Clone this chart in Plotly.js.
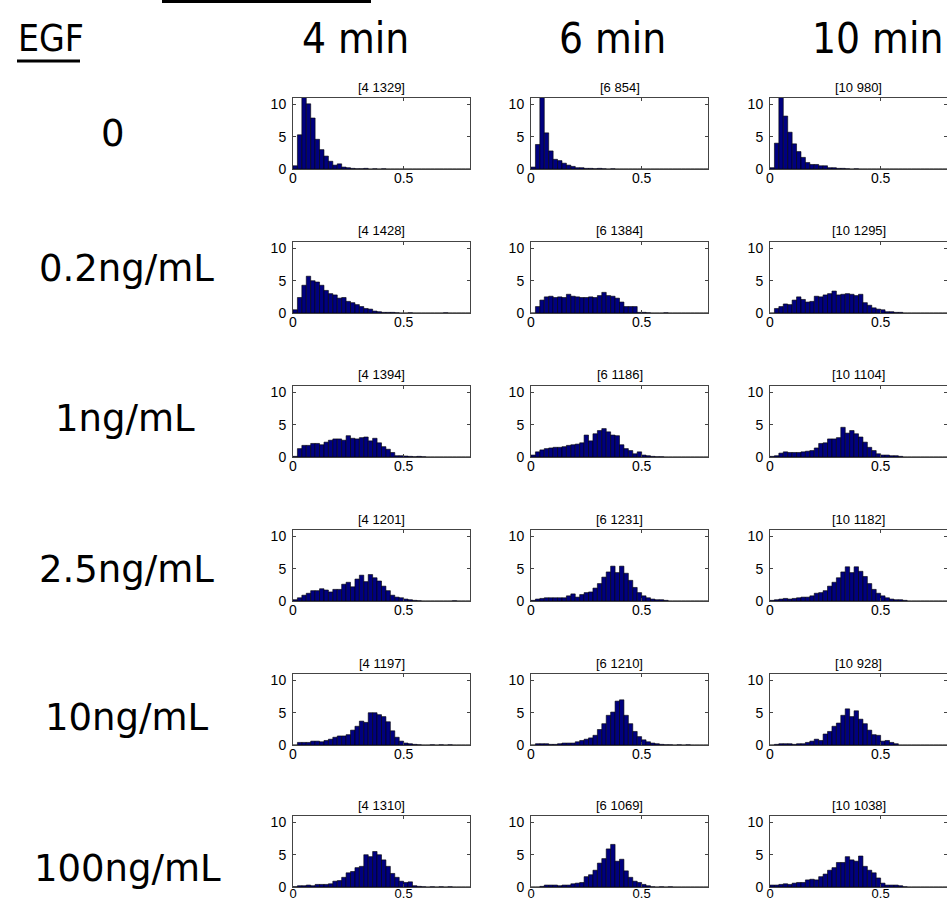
<!DOCTYPE html>
<html>
<head>
<meta charset="utf-8">
<script src="https://cdn.plot.ly/plotly-3.0.1.min.js"></script>
<style>html,body{margin:0;padding:0;background:#fff;}#chart{width:947px;height:904px;}</style>
</head>
<body>
<div id="chart"></div>
<script>
// ---- data ----
const binCenters = [0.01,0.03,0.05,0.07,0.09,0.11,0.13,0.15,0.17,0.19,
                    0.21,0.23,0.25,0.27,0.29,0.31,0.33,0.35,0.37,0.39,
                    0.41,0.43,0.45,0.47,0.49,0.51,0.53,0.55,0.57,0.59,
                    0.61,0.63,0.65,0.67,0.69,0.71,0.73,0.75,0.77,0.79];
const doseLabels = ['0', '0.2ng/mL', '1ng/mL', '2.5ng/mL', '10ng/mL', '100ng/mL'];
const timeLabels = ['4 min', '6 min', '10 min'];
const panelTitles = [
  ['[4 1329]', '[6 854]',  '[10 980]'],
  ['[4 1428]', '[6 1384]', '[10 1295]'],
  ['[4 1394]', '[6 1186]', '[10 1104]'],
  ['[4 1201]', '[6 1231]', '[10 1182]'],
  ['[4 1197]', '[6 1210]', '[10 928]'],
  ['[4 1310]', '[6 1069]', '[10 1038]']
];
const xTickVals = [0, 0.5];
const xTickText = ['0', '0.5'];
const yTickVals = [0, 5, 10];
const yTickText = ['0', '5', '10'];

// EGF 0
const egf0_4min  = [0.5,5.3,13.3,10.1,7.9,4.6,3.0,2.0,1.2,0.6, 0.8,0.3,0.2,0.1,0.05,0.05,0.1,0,0.05,0, 0.05,0,0,0,0,0,0,0,0,0, 0,0,0,0,0,0,0,0,0,0];
const egf0_6min  = [0.3,3.8,20.0,5.6,2.8,1.5,1.3,0.9,0.6,0.4, 0.2,0.2,0.1,0.1,0.05,0.1,0.05,0,0.05,0, 0,0,0,0,0,0,0,0,0,0, 0,0,0,0,0,0,0,0,0,0];
const egf0_10min = [0.2,4.0,13.0,8.2,5.7,3.9,2.7,1.8,1.0,0.7, 0.7,0.5,0.5,0.2,0.2,0.1,0.1,0.05,0,0.05, 0,0,0,0,0,0,0,0,0,0, 0,0,0,0,0,0,0,0,0,0];
// EGF 0.2 ng/mL
const egf02_4min  = [0.5,2.4,4.3,5.7,5.0,4.8,4.3,3.5,3.0,2.8, 2.3,2.4,1.8,1.6,1.3,1.0,0.7,0.6,0.3,0.2, 0.1,0.1,0.1,0.05,0,0,0.05,0,0,0, 0,0,0,0,0.05,0,0,0,0,0];
const egf02_6min  = [0,1.0,2.0,2.5,2.6,2.4,2.5,2.4,2.9,2.6, 2.5,2.4,2.4,2.5,2.4,2.7,3.2,2.7,2.6,2.3, 1.7,1.0,1.0,1.0,0.1,0.1,0.05,0,0,0, 0.05,0,0,0,0,0,0,0,0,0];
const egf02_10min = [0,0.7,1.0,1.4,1.3,2.0,2.5,2.1,1.7,1.8, 2.6,2.5,2.8,3.0,3.4,2.8,2.9,3.0,2.9,2.7, 2.9,1.6,1.2,0.8,0.6,0.5,0.2,0.2,0.1,0.1, 0,0,0,0,0,0,0,0,0,0];
// EGF 1 ng/mL
const egf1_4min  = [0.1,1.3,1.8,1.8,2.1,2.1,1.9,2.3,2.6,2.8, 2.8,2.6,3.3,2.9,2.8,3.0,3.1,2.5,2.9,2.2, 1.6,1.2,0.7,0.2,0.2,0.15,0.1,0.05,0.1,0.05, 0,0,0,0,0,0,0,0,0,0];
const egf1_6min  = [0.3,0.8,1.1,1.3,1.4,1.5,1.5,1.6,1.8,1.9, 2.0,2.2,3.4,2.5,3.6,4.1,4.4,3.9,3.4,3.3, 1.9,1.3,1.0,0.5,0.8,0.3,0.2,0.1,0.05,0.05, 0,0,0,0,0,0,0,0,0,0];
const egf1_10min = [0.1,0.2,0.6,0.8,0.7,0.7,0.7,0.8,0.9,1.0, 1.4,2.1,2.2,2.8,2.8,3.0,4.6,3.7,4.1,3.6, 3.1,2.3,1.5,1.0,0.5,0.3,0.3,0.2,0.2,0.1, 0,0,0,0,0,0,0,0,0,0];
// EGF 2.5 ng/mL
const egf25_4min  = [0.2,0.5,0.9,1.2,1.6,1.6,1.9,1.7,1.4,1.8, 1.8,2.6,2.9,2.2,3.4,4.0,3.0,4.1,3.6,3.1, 2.3,1.6,0.9,0.6,0.5,0.3,0.2,0.1,0.05,0, 0,0,0,0,0,0,0.05,0,0,0];
const egf25_6min  = [0.1,0.3,0.4,0.5,0.5,0.5,0.5,0.5,0.8,1.1, 0.6,1.0,1.3,1.4,2.0,2.7,3.7,4.5,5.4,4.4, 5.4,4.3,3.2,2.1,1.3,0.8,0.5,0.3,0.2,0.2, 0.1,0,0,0,0,0,0,0,0,0];
const egf25_10min = [0.1,0.2,0.3,0.4,0.3,0.4,0.5,0.6,0.6,0.8, 1.2,1.3,1.6,2.3,2.9,3.6,4.5,5.3,4.4,5.3, 4.6,3.8,2.7,1.8,1.2,0.8,0.5,0.3,0.2,0.2, 0.1,0,0,0,0,0,0,0,0,0];
// EGF 10 ng/mL
const egf10_4min  = [0,0.4,0.4,0.4,0.6,0.6,0.5,0.7,0.9,1.2, 1.4,1.4,1.6,2.3,2.9,3.7,3.5,5.0,5.0,4.7, 4.4,3.6,2.2,1.2,0.6,0.3,0.2,0.1,0.05,0, 0,0.05,0,0.05,0,0.05,0,0,0,0];
const egf10_6min  = [0,0.2,0.2,0.2,0.1,0.1,0.2,0.3,0.3,0.3, 0.5,0.7,0.9,1.1,1.5,2.4,3.3,4.6,5.1,6.8, 7.0,4.6,3.3,2.1,1.3,0.8,0.5,0.3,0.2,0.1, 0.05,0.05,0,0.05,0,0.05,0,0,0,0];
const egf10_10min = [0,0.1,0.2,0.2,0.2,0.1,0.2,0.2,0.4,0.6, 0.9,0.7,1.7,2.1,2.9,3.4,4.6,5.6,4.4,5.3, 4.0,3.3,2.3,1.6,1.5,0.6,0.7,0.4,0.2,0, 0,0,0,0,0,0,0,0,0,0];
// EGF 100 ng/mL
const egf100_4min  = [0.05,0.2,0.2,0.3,0.2,0.4,0.4,0.4,0.5,0.9, 1.0,1.5,2.2,2.4,3.0,3.2,5.0,4.7,5.5,5.0, 4.2,3.2,2.1,1.5,0.9,0.7,0.8,0.2,0.1,0.05, 0,0.05,0,0.05,0,0.05,0,0,0,0];
const egf100_6min  = [0,0,0.1,0.3,0.3,0.3,0.2,0.3,0.3,0.5, 0.6,0.7,1.6,1.9,2.6,3.7,4.4,5.9,6.6,4.0, 4.3,2.5,1.5,0.9,0.7,0.4,0.2,0.05,0,0.05, 0,0.05,0,0,0,0,0,0,0,0];
const egf100_10min = [0.3,0.3,0.4,0.5,0.4,0.6,0.7,0.7,1.1,1.2, 1.1,1.6,2.0,2.6,3.0,3.8,3.8,4.7,4.2,4.0, 4.8,3.2,2.6,2.2,1.4,0.6,0.3,0.3,0.3,0.2, 0.05,0,0,0,0,0,0,0,0,0];

const panelData = [
  [egf0_4min,   egf0_6min,   egf0_10min],
  [egf02_4min,  egf02_6min,  egf02_10min],
  [egf1_4min,   egf1_6min,   egf1_10min],
  [egf25_4min,  egf25_6min,  egf25_10min],
  [egf10_4min,  egf10_6min,  egf10_10min],
  [egf100_4min, egf100_6min, egf100_10min]
];

// ---- layout geometry (pixels) ----
const W = 947, H = 904;
const colLeft = [293, 531, 770];
const boxW = 177;
const rowBottom = [169, 313, 457, 601, 745, 887];
const boxH = 71;
const rowLabelY = [133, 268, 418, 569, 717, 868];
const rowLabelX = [113, 126, 125, 126, 127, 127];
const colTitleX = [355, 612, 877];

const px = v => v / W;
const py = v => 1 - v / H;

const traces = [];
const layout = {
  width: W, height: H,
  margin: {l: 0, r: 0, t: 0, b: 0},
  paper_bgcolor: '#fff', plot_bgcolor: '#fff',
  showlegend: false,
  bargap: 0,
  annotations: [],
  shapes: []
};

const tickFont = {family: 'Liberation Sans, Arial, sans-serif', size: 14, color: '#000'};
const lastRowTickFont = {family: 'Liberation Sans, Arial, sans-serif', size: 13, color: '#000'};

for (let r = 0; r < 6; r++) {
  for (let c = 0; c < 3; c++) {
    const i = r * 3 + c + 1;
    const xa = 'xaxis' + (i === 1 ? '' : i);
    const ya = 'yaxis' + (i === 1 ? '' : i);
    const xr = 'x' + (i === 1 ? '' : i);
    const yr = 'y' + (i === 1 ? '' : i);
    traces.push({
      type: 'bar', x: binCenters, y: panelData[r][c],
      xaxis: xr, yaxis: yr, width: 0.02,
      marker: {color: '#00007F', line: {color: '#000', width: 0.6}},
      hoverinfo: 'x+y'
    });
    const x0 = px(colLeft[c]), x1 = Math.min(1, px(colLeft[c] + boxW));
    const yb = rowBottom[r], yt = rowBottom[r] - boxH;
    const lastRow = (r === 5);
    layout[xa] = {
      domain: [x0, x1], anchor: yr, range: [0, 0.8],
      tickvals: xTickVals, ticktext: xTickText, ticks: 'inside', ticklen: 3,
      showline: true, mirror: 'ticks', linecolor: '#444', linewidth: 1,
      showgrid: false, zeroline: false, tickfont: lastRow ? lastRowTickFont : tickFont, fixedrange: true,
      ticklabelstandoff: lastRow ? -6 : -4
    };
    layout[ya] = {
      domain: [py(yb), py(yt)], anchor: xr, range: [0, 11],
      tickvals: yTickVals, ticktext: yTickText, ticks: 'inside', ticklen: 3,
      showline: true, mirror: 'ticks', linecolor: '#444', linewidth: 1,
      showgrid: false, zeroline: false, tickfont: tickFont, fixedrange: true,
      ticklabelstandoff: 3
    };
    layout.annotations.push({
      text: panelTitles[r][c], xref: 'paper', yref: 'paper',
      x: px(colLeft[c] + boxW / 2), y: py(yt - 11), xanchor: 'center', yanchor: 'middle',
      showarrow: false, font: {family: 'Liberation Sans, Arial, sans-serif', size: 13, color: '#000'}
    });
  }
  layout.annotations.push({
    text: doseLabels[r], xref: 'paper', yref: 'paper',
    x: px(rowLabelX[r]), y: py(rowLabelY[r]), xanchor: 'center', yanchor: 'middle',
    showarrow: false, font: {family: 'DejaVu Sans, sans-serif', size: 37, color: '#000'}
  });
}
for (let c = 0; c < 3; c++) {
  layout.annotations.push({
    text: timeLabels[c], xref: 'paper', yref: 'paper',
    x: px(colTitleX[c]), y: py(38), xanchor: 'center', yanchor: 'middle',
    showarrow: false, font: {family: 'DejaVu Sans Condensed, sans-serif', size: 42, color: '#000'}
  });
}
layout.annotations.push({
  text: 'EGF', xref: 'paper', yref: 'paper',
  x: px(16), y: py(38), xanchor: 'left', yanchor: 'middle',
  showarrow: false, font: {family: 'DejaVu Sans Condensed, sans-serif', size: 37, color: '#000'}
});
layout.shapes.push({type: 'line', xref: 'paper', yref: 'paper', x0: px(17), x1: px(80), y0: py(61), y1: py(61), line: {color: '#000', width: 3}});
layout.shapes.push({type: 'line', xref: 'paper', yref: 'paper', x0: px(162), x1: px(371), y0: py(1), y1: py(1), line: {color: '#000', width: 4}});

Plotly.newPlot('chart', traces, layout, {displayModeBar: false, staticPlot: true});
</script>
</body>
</html>
